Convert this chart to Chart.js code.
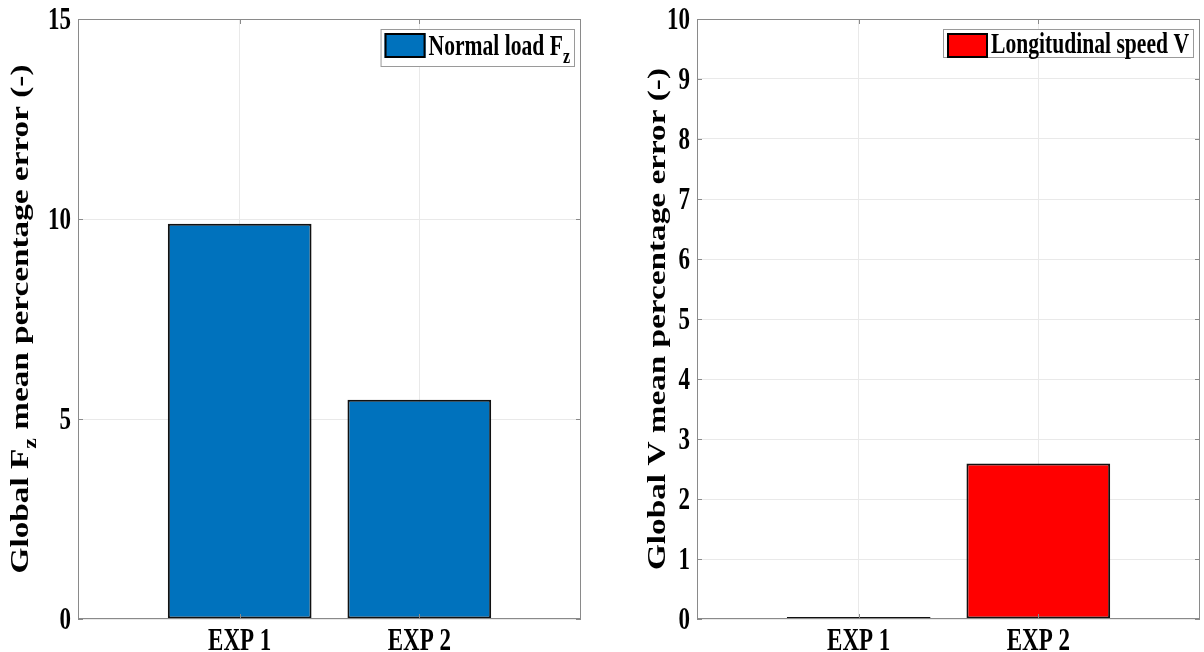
<!DOCTYPE html>
<html>
<head>
<meta charset="utf-8">
<script src="https://cdn.jsdelivr.net/npm/chart.js@4/dist/chart.umd.min.js"></script>
<style>
  html, body { margin: 0; padding: 0; background: #ffffff; }
  body { width: 1204px; height: 652px; position: relative; overflow: hidden; }
  .panel { position: absolute; top: 0; height: 652px; }
  canvas { display: block; }
</style>
</head>
<body>
<div class="panel" style="left:0; width:600px;"><canvas id="loadChart" width="600" height="652"></canvas></div>
<div class="panel" style="left:600px; width:604px;"><canvas id="speedChart" width="604" height="652"></canvas></div>
<script>
// Experiments on the x axis
const categories = ['EXP 1', 'EXP 2'];

// Global mean percentage errors per experiment
const normalLoadError = [9.88, 5.48];
const speedError = [0.035, 2.59];

// Tick values of the two y axes
const loadTicks = [0, 5, 10, 15];
const speedTicks = [0, 1, 2, 3, 4, 5, 6, 7, 8, 9, 10];

// Text pieces; "sub" marks a subscript part
const loadLegend = [{ t: 'Normal load F' }, { t: 'z', sub: true }];
const speedLegend = [{ t: 'Longitudinal speed V' }];
const loadAxisTitle = [{ t: 'Global F' }, { t: 'z', sub: true }, { t: ' mean percentage error (-)' }];
const speedAxisTitle = [{ t: 'Global V mean percentage error (-)' }];

const SERIF = '"Liberation Serif", "Times New Roman", serif';
const FRAME_COLOR = '#8a8a8a';
const GRID_COLOR = '#e9e9e9';
const TEXT_STRETCH = 1.35;   // tall, narrow lettering
const TITLE_STRETCH = 1.33;
const TICK_SIZE = 23;
const LEGEND_SIZE = 21.6;
const TITLE_SIZE = 25;

function partFont(size, sub) {
  return 'bold ' + (sub ? Math.round(size * 0.72) : size) + 'px ' + SERIF;
}
function partsWidth(ctx, parts, size) {
  let w = 0;
  parts.forEach(p => { ctx.font = partFont(size, p.sub); w += ctx.measureText(p.t).width; });
  return w;
}
function drawParts(ctx, parts, x, y, size, subShift) {
  parts.forEach(p => {
    ctx.font = partFont(size, p.sub);
    ctx.fillText(p.t, x, p.sub ? y + subShift : y);
    x += ctx.measureText(p.t).width;
  });
}

// Box around the axes with inward tick marks on all four sides
const framePlugin = {
  id: 'frame',
  afterDatasetsDraw(chart) {
    const { ctx, chartArea: a, scales } = chart;
    ctx.save();
    ctx.strokeStyle = FRAME_COLOR;
    ctx.lineWidth = 1;
    ctx.strokeRect(a.left + 0.5, a.top + 0.5, a.right - a.left - 1, a.bottom - a.top - 1);
    const len = 5;
    ctx.beginPath();
    scales.x.ticks.forEach(t => {
      const px = Math.round(scales.x.getPixelForValue(t.value)) + 0.5;
      ctx.moveTo(px, a.bottom); ctx.lineTo(px, a.bottom - len);
      ctx.moveTo(px, a.top); ctx.lineTo(px, a.top + len);
    });
    scales.y.ticks.forEach(t => {
      const py = Math.round(scales.y.getPixelForValue(t.value)) + 0.5;
      ctx.moveTo(a.left, py); ctx.lineTo(a.left + len, py);
      ctx.moveTo(a.right, py); ctx.lineTo(a.right - len, py);
    });
    ctx.stroke();
    ctx.restore();
  }
};

// Tick labels placed from the chart's own scales, drawn in tall lettering
const tickLabelPlugin = {
  id: 'tickLabels',
  afterDraw(chart) {
    const { ctx, chartArea: a, scales } = chart;
    ctx.save();
    ctx.fillStyle = '#000000';
    ctx.font = partFont(TICK_SIZE, false);
    ctx.textBaseline = 'alphabetic';
    // y axis
    ctx.textAlign = 'right';
    scales.y.ticks.forEach(t => {
      const py = scales.y.getPixelForValue(t.value);
      ctx.save();
      ctx.translate(a.left - 7, py + 0.338 * TICK_SIZE * TEXT_STRETCH);
      ctx.scale(1, TEXT_STRETCH);
      ctx.fillText(String(t.value), 0, 0);
      ctx.restore();
    });
    // x axis
    ctx.textAlign = 'center';
    scales.x.ticks.forEach(t => {
      const px = scales.x.getPixelForValue(t.value);
      ctx.save();
      ctx.translate(px, a.bottom + 31);
      ctx.scale(1, TEXT_STRETCH);
      ctx.fillText(categories[t.value - 1], 0, 0);
      ctx.restore();
    });
    ctx.restore();
  }
};

// Legend box in the top-right corner, with subscript support
const legendBoxPlugin = {
  id: 'legendBox',
  afterDraw(chart, args, opts) {
    const { ctx, chartArea: a } = chart;
    const ds = chart.data.datasets[0];
    const parts = opts.parts;
    const hasSub = parts.some(p => p.sub);
    ctx.save();
    const textW = partsWidth(ctx, parts, LEGEND_SIZE);
    const swW = 41, swH = 25;
    const boxH = hasSub ? 38 : 29;
    const boxW = 4 + swW + 3 + textW + 5;
    const right = a.right - 6;
    const left = right - boxW;
    const top = a.top + 10;
    ctx.fillStyle = '#ffffff';
    ctx.fillRect(left, top, boxW, boxH);
    ctx.strokeStyle = '#9a9a9a';
    ctx.lineWidth = 1;
    ctx.strokeRect(left + 0.5, top + 0.5, boxW - 1, boxH - 1);
    const swX = left + 4, swY = top + 4;
    ctx.fillStyle = ds.backgroundColor;
    ctx.fillRect(swX, swY, swW, swH);
    ctx.strokeStyle = '#000000';
    ctx.lineWidth = 2;
    ctx.strokeRect(swX + 1, swY + 1, swW - 2, swH - 2);
    ctx.fillStyle = '#000000';
    ctx.textBaseline = 'alphabetic';
    ctx.textAlign = 'left';
    ctx.translate(swX + swW + 3, top + (hasSub ? 26 : 24));
    ctx.scale(1, TEXT_STRETCH);
    drawParts(ctx, parts, 0, 0, LEGEND_SIZE, 8 / TEXT_STRETCH);
    ctx.restore();
  }
};

// Rotated y-axis title, centred on the plot area
const axisTitlePlugin = {
  id: 'axisTitle',
  afterDraw(chart, args, opts) {
    const { ctx, chartArea: a } = chart;
    ctx.save();
    const w = partsWidth(ctx, opts.parts, TITLE_SIZE);
    ctx.translate(opts.x, (a.top + a.bottom) / 2);
    ctx.rotate(-Math.PI / 2);
    ctx.scale(TITLE_STRETCH, 1);
    ctx.fillStyle = '#000000';
    ctx.textBaseline = 'alphabetic';
    ctx.textAlign = 'left';
    drawParts(ctx, opts.parts, -w / 2, 0, TITLE_SIZE, 8);
    ctx.restore();
  }
};

function makeChart(canvasId, cfg) {
  const data = categories.map((c, i) => ({ x: i + 1, y: cfg.values[i] }));
  return new Chart(document.getElementById(canvasId), {
    type: 'bar',
    data: {
      datasets: [{
        label: cfg.legend.map(p => p.t).join(''),
        data: data,
        backgroundColor: cfg.color,
        borderColor: '#111111',
        borderWidth: 2,
        borderSkipped: false,
        barPercentage: 0.8,
        categoryPercentage: 1.0
      }]
    },
    options: {
      responsive: false,
      animation: false,
      devicePixelRatio: 1,
      layout: { padding: { top: 19, right: cfg.padRight, bottom: 0, left: 0 } },
      plugins: {
        legend: { display: false },
        tooltip: { enabled: false },
        legendBox: { parts: cfg.legend },
        axisTitle: { parts: cfg.title, x: cfg.titleX }
      },
      scales: {
        x: {
          type: 'linear',
          offset: false,
          min: 0.1,
          max: 2.9,
          afterBuildTicks(scale) { scale.ticks = categories.map((c, i) => ({ value: i + 1 })); },
          afterFit(scale) { scale.height = 33; },
          grid: { color: GRID_COLOR, drawTicks: false, offset: false },
          border: { display: false },
          ticks: { display: false, autoSkip: false }
        },
        y: {
          min: 0,
          max: cfg.ticks[cfg.ticks.length - 1],
          afterBuildTicks(scale) { scale.ticks = cfg.ticks.map(v => ({ value: v })); },
          afterFit(scale) { scale.width = cfg.axisWidth; },
          grid: { color: GRID_COLOR, drawTicks: false },
          border: { display: false },
          ticks: { display: false, autoSkip: false }
        }
      }
    },
    plugins: [framePlugin, tickLabelPlugin, legendBoxPlugin, axisTitlePlugin]
  });
}

makeChart('loadChart', {
  values: normalLoadError,
  ticks: loadTicks,
  color: '#0072BD',
  legend: loadLegend,
  title: loadAxisTitle,
  titleX: 28,
  axisWidth: 78,
  padRight: 19
});

makeChart('speedChart', {
  values: speedError,
  ticks: speedTicks,
  color: '#FF0000',
  legend: speedLegend,
  title: speedAxisTitle,
  titleX: 65,
  axisWidth: 97,
  padRight: 4
});
</script>
</body>
</html>
